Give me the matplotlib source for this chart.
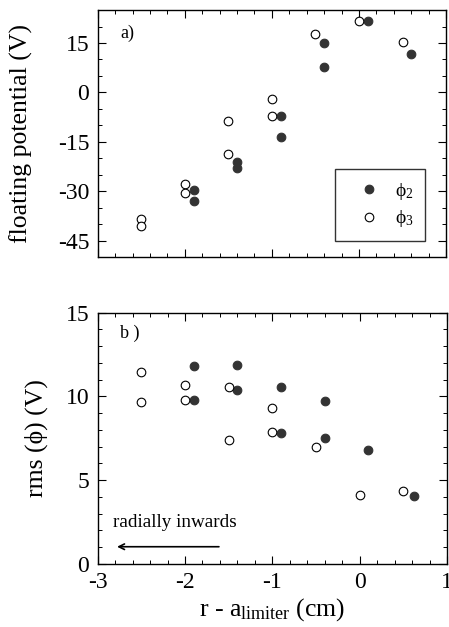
import matplotlib
matplotlib.use("Agg")
import matplotlib.pyplot as plt
from matplotlib.ticker import MultipleLocator

plt.rcParams['font.family'] = ['Liberation Serif', 'DejaVu Serif']
plt.rcParams['mathtext.fontset'] = 'custom'
plt.rcParams['mathtext.rm'] = 'Liberation Serif'
plt.rcParams['mathtext.it'] = 'Liberation Serif:italic'
plt.rcParams['axes.unicode_minus'] = False

# panel a) floating potential
phi2_x = [-1.9, -1.9, -1.4, -1.4, -0.9, -0.9, -0.4, -0.4, 0.1, 0.6]
phi2_y = [-29.6, -33.1, -21.2, -23.1, -7.2, -13.4, 14.9, 7.7, 21.8, 11.6]
phi3_x = [-2.5, -2.5, -2.0, -2.0, -1.5, -1.5, -1.0, -1.0, -0.5, 0.0, 0.5]
phi3_y = [-38.5, -40.5, -27.8, -30.4, -8.8, -18.75, -1.9, -7.3, 17.8, 21.8, 15.3]

# panel b) rms fluctuation
rms2_x = [-1.9, -1.9, -1.4, -1.4, -0.9, -0.9, -0.4, -0.4, 0.1, 0.62]
rms2_y = [11.8, 9.81, 11.9, 10.36, 10.54, 7.82, 9.73, 7.52, 6.78, 4.04]
rms3_x = [-2.5, -2.5, -2.0, -2.0, -1.5, -1.5, -1.0, -1.0, -0.5, 0.0, 0.5]
rms3_y = [11.46, 9.67, 10.68, 9.77, 10.58, 7.38, 9.29, 7.88, 7.0, 4.14, 4.34]

fig = plt.figure(figsize=(4.49, 6.27), dpi=100)
ax1 = fig.add_axes([0.2176, 0.590, 0.776, 0.394])
ax2 = fig.add_axes([0.2176, 0.1005, 0.778, 0.4008])

filled = dict(marker='o', ls='none', ms=6.2, mfc='#333333', mec='#333333', mew=0.8)
hollow = dict(marker='o', ls='none', ms=6.2, mfc='white', mec='black', mew=0.8)

ax1.plot(phi2_x, phi2_y, label='ϕ$_{2}$', **filled)
ax1.plot(phi3_x, phi3_y, label='ϕ$_{3}$', **hollow)
ax2.plot(rms2_x, rms2_y, **filled)
ax2.plot(rms3_x, rms3_y, **hollow)

ax1.set_xlim(-3, 1)
ax1.set_ylim(-50, 25)
ax1.set_yticks([-45, -30, -15, 0, 15])
ax1.yaxis.set_minor_locator(MultipleLocator(5))
ax1.xaxis.set_major_locator(MultipleLocator(1))
ax1.xaxis.set_minor_locator(MultipleLocator(0.2))
ax1.tick_params(axis='x', labelbottom=False)
ax1.set_ylabel('floating potential (V)', fontsize=18.5)
ax1.yaxis.set_label_coords(-0.186, 0.5)
ax1.text(0.064, 0.907, 'a)', transform=ax1.transAxes, fontsize=13, va='center')

leg = ax1.legend(loc='lower right', bbox_to_anchor=(0.94, 0.066), frameon=True,
                 fancybox=False, fontsize=14, handlelength=2.3, handletextpad=0.2,
                 borderpad=0.58, labelspacing=0.35, borderaxespad=0)
leg.get_frame().set_edgecolor('black')
leg.get_frame().set_linewidth(1.0)

ax2.set_xlim(-3, 1)
ax2.set_ylim(0, 15)
ax2.xaxis.set_major_locator(MultipleLocator(1))
ax2.xaxis.set_minor_locator(MultipleLocator(0.2))
ax2.yaxis.set_major_locator(MultipleLocator(5))
ax2.yaxis.set_minor_locator(MultipleLocator(1))
ax2.set_ylabel('rms (ϕ) (V)', fontsize=18.5)
ax2.yaxis.set_label_coords(-0.142, 0.5)
ax2.set_xlabel(r'r - a$_{\mathrm{limiter}}$ (cm)', fontsize=18.5, labelpad=2)
ax2.text(0.064, 0.919, 'b )', transform=ax2.transAxes, fontsize=13, va='center')
ax2.annotate('', xy=(-2.81, 1.03), xytext=(-1.58, 1.03),
             arrowprops=dict(arrowstyle='->', color='black', lw=1.2))
ax2.text(-2.82, 2.45, 'radially inwards', fontsize=13.8, va='center', ha='left')

for ax in (ax1, ax2):
    ax.tick_params(which='both', direction='in', top=True, right=True, labelsize=17, pad=6)
    ax.tick_params(which='major', length=6, width=0.8)
    ax.tick_params(which='minor', length=3, width=0.7)
    for s in ax.spines.values():
        s.set_linewidth(1.0)

fig.savefig('out.png', dpi=100)
